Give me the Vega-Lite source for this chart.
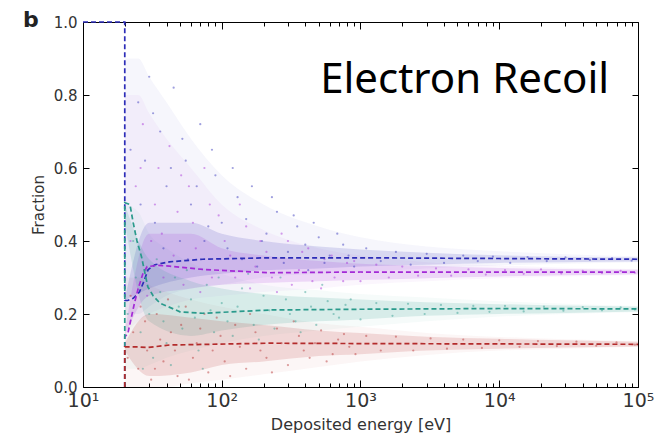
{
  "$schema": "https://vega.github.io/schema/vega-lite/v6.json",
  "width": 555,
  "height": 365,
  "autosize": {"type": "none"},
  "padding": {"left": 83, "top": 22, "right": 28, "bottom": 50},
  "title": {"text": "b", "anchor": "start", "frame": "group", "fontSize": 22, "fontWeight": "bold", "font": "DejaVu Sans", "dx": -60, "offset": 0, "baseline": "alphabetic", "dy": 34, "color": "#222"},
  "config": {
    "view": {"stroke": "#000", "strokeWidth": 1},
    "axis": {"domain": false, "grid": false, "tickColor": "#000", "labelFont": "DejaVu Sans", "titleFont": "DejaVu Sans", "labelColor": "#333", "titleColor": "#333", "titleFontWeight": "normal", "labelFlush": false, "labelOverlap": false, "labelBound": false}
  },
  "resolve": {"axis": {"x": "independent", "y": "independent"}},
  "datasets": {
    "wide": [
      {"e": 20, "l": 0.2, "h": 0.9, "s": "A"}, {"e": 25, "l": 0.2, "h": 0.9, "s": "A"}, {"e": 30, "l": 0.22, "h": 0.85, "s": "A"}, {"e": 40, "l": 0.25, "h": 0.78, "s": "A"}, {"e": 60, "l": 0.27, "h": 0.68, "s": "A"}, {"e": 100, "l": 0.28, "h": 0.58, "s": "A"}, {"e": 200, "l": 0.3, "h": 0.5, "s": "A"}, {"e": 500, "l": 0.31, "h": 0.44, "s": "A"}, {"e": 1000, "l": 0.315, "h": 0.41, "s": "A"}, {"e": 3000, "l": 0.325, "h": 0.385, "s": "A"}, {"e": 10000, "l": 0.333, "h": 0.372, "s": "A"}, {"e": 30000, "l": 0.338, "h": 0.364, "s": "A"}, {"e": 100000, "l": 0.342, "h": 0.358, "s": "A"},
      {"e": 20, "l": 0.15, "h": 0.8, "s": "B"}, {"e": 25, "l": 0.18, "h": 0.8, "s": "B"}, {"e": 30, "l": 0.2, "h": 0.75, "s": "B"}, {"e": 40, "l": 0.22, "h": 0.68, "s": "B"}, {"e": 60, "l": 0.24, "h": 0.6, "s": "B"}, {"e": 100, "l": 0.25, "h": 0.5, "s": "B"}, {"e": 200, "l": 0.26, "h": 0.43, "s": "B"}, {"e": 500, "l": 0.27, "h": 0.38, "s": "B"}, {"e": 1000, "l": 0.28, "h": 0.36, "s": "B"}, {"e": 3000, "l": 0.29, "h": 0.342, "s": "B"}, {"e": 10000, "l": 0.298, "h": 0.333, "s": "B"}, {"e": 30000, "l": 0.303, "h": 0.327, "s": "B"}, {"e": 100000, "l": 0.307, "h": 0.323, "s": "B"},
      {"e": 20, "l": 0.05, "h": 0.5, "s": "C"}, {"e": 25, "l": 0.05, "h": 0.48, "s": "C"}, {"e": 30, "l": 0.06, "h": 0.42, "s": "C"}, {"e": 40, "l": 0.08, "h": 0.38, "s": "C"}, {"e": 60, "l": 0.1, "h": 0.34, "s": "C"}, {"e": 100, "l": 0.12, "h": 0.31, "s": "C"}, {"e": 200, "l": 0.14, "h": 0.28, "s": "C"}, {"e": 500, "l": 0.155, "h": 0.265, "s": "C"}, {"e": 1000, "l": 0.165, "h": 0.255, "s": "C"}, {"e": 3000, "l": 0.18, "h": 0.245, "s": "C"}, {"e": 10000, "l": 0.193, "h": 0.235, "s": "C"}, {"e": 30000, "l": 0.2, "h": 0.228, "s": "C"}, {"e": 100000, "l": 0.205, "h": 0.222, "s": "C"},
      {"e": 20, "l": 0.0, "h": 0.3, "s": "D"}, {"e": 25, "l": 0.0, "h": 0.3, "s": "D"}, {"e": 30, "l": 0.0, "h": 0.28, "s": "D"}, {"e": 40, "l": 0.0, "h": 0.26, "s": "D"}, {"e": 60, "l": 0.01, "h": 0.24, "s": "D"}, {"e": 100, "l": 0.02, "h": 0.22, "s": "D"}, {"e": 200, "l": 0.035, "h": 0.2, "s": "D"}, {"e": 500, "l": 0.055, "h": 0.175, "s": "D"}, {"e": 1000, "l": 0.07, "h": 0.165, "s": "D"}, {"e": 3000, "l": 0.088, "h": 0.148, "s": "D"}, {"e": 10000, "l": 0.1, "h": 0.137, "s": "D"}, {"e": 30000, "l": 0.105, "h": 0.131, "s": "D"}, {"e": 100000, "l": 0.11, "h": 0.125, "s": "D"}
    ],
    "core": [
      {"e": 20, "l": 0.237, "h": 0.24, "s": "A"}, {"e": 30, "l": 0.27, "h": 0.45, "s": "A"}, {"e": 60, "l": 0.3, "h": 0.45, "s": "A"}, {"e": 100, "l": 0.31, "h": 0.42, "s": "A"}, {"e": 200, "l": 0.32, "h": 0.4, "s": "A"}, {"e": 500, "l": 0.325, "h": 0.385, "s": "A"}, {"e": 1000, "l": 0.33, "h": 0.377, "s": "A"}, {"e": 3000, "l": 0.335, "h": 0.368, "s": "A"}, {"e": 10000, "l": 0.34, "h": 0.361, "s": "A"}, {"e": 30000, "l": 0.342, "h": 0.357, "s": "A"}, {"e": 100000, "l": 0.344, "h": 0.355, "s": "A"},
      {"e": 20, "l": 0.14, "h": 0.15, "s": "B"}, {"e": 30, "l": 0.25, "h": 0.42, "s": "B"}, {"e": 60, "l": 0.27, "h": 0.42, "s": "B"}, {"e": 100, "l": 0.28, "h": 0.38, "s": "B"}, {"e": 200, "l": 0.285, "h": 0.36, "s": "B"}, {"e": 500, "l": 0.29, "h": 0.345, "s": "B"}, {"e": 1000, "l": 0.293, "h": 0.338, "s": "B"}, {"e": 3000, "l": 0.298, "h": 0.332, "s": "B"}, {"e": 10000, "l": 0.303, "h": 0.326, "s": "B"}, {"e": 30000, "l": 0.306, "h": 0.323, "s": "B"}, {"e": 100000, "l": 0.309, "h": 0.321, "s": "B"},
      {"e": 20, "l": 0.45, "h": 0.5, "s": "C"}, {"e": 30, "l": 0.18, "h": 0.35, "s": "C"}, {"e": 60, "l": 0.14, "h": 0.29, "s": "C"}, {"e": 100, "l": 0.155, "h": 0.27, "s": "C"}, {"e": 200, "l": 0.17, "h": 0.255, "s": "C"}, {"e": 500, "l": 0.18, "h": 0.245, "s": "C"}, {"e": 1000, "l": 0.185, "h": 0.24, "s": "C"}, {"e": 3000, "l": 0.195, "h": 0.232, "s": "C"}, {"e": 10000, "l": 0.2, "h": 0.227, "s": "C"}, {"e": 30000, "l": 0.203, "h": 0.223, "s": "C"}, {"e": 100000, "l": 0.207, "h": 0.22, "s": "C"},
      {"e": 20, "l": 0.1, "h": 0.12, "s": "D"}, {"e": 30, "l": 0.03, "h": 0.2, "s": "D"}, {"e": 60, "l": 0.04, "h": 0.19, "s": "D"}, {"e": 100, "l": 0.06, "h": 0.18, "s": "D"}, {"e": 200, "l": 0.07, "h": 0.17, "s": "D"}, {"e": 500, "l": 0.085, "h": 0.155, "s": "D"}, {"e": 1000, "l": 0.09, "h": 0.148, "s": "D"}, {"e": 3000, "l": 0.1, "h": 0.138, "s": "D"}, {"e": 10000, "l": 0.105, "h": 0.132, "s": "D"}, {"e": 30000, "l": 0.108, "h": 0.128, "s": "D"}, {"e": 100000, "l": 0.111, "h": 0.124, "s": "D"}
    ],
    "pts": [
      {"e": 25, "f": 0.78, "s": "A"}, {"e": 28, "f": 0.62, "s": "A"}, {"e": 30, "f": 0.85, "s": "A"}, {"e": 33, "f": 0.45, "s": "A"}, {"e": 36, "f": 0.7, "s": "A"}, {"e": 40, "f": 0.55, "s": "A"}, {"e": 45, "f": 0.82, "s": "A"}, {"e": 50, "f": 0.4, "s": "A"}, {"e": 55, "f": 0.62, "s": "A"}, {"e": 60, "f": 0.5, "s": "A"}, {"e": 70, "f": 0.72, "s": "A"}, {"e": 80, "f": 0.44, "s": "A"}, {"e": 90, "f": 0.58, "s": "A"}, {"e": 110, "f": 0.38, "s": "A"}, {"e": 130, "f": 0.52, "s": "A"}, {"e": 150, "f": 0.46, "s": "A"}, {"e": 180, "f": 0.33, "s": "A"}, {"e": 210, "f": 0.42, "s": "A"}, {"e": 250, "f": 0.48, "s": "A"}, {"e": 300, "f": 0.37, "s": "A"}, {"e": 350, "f": 0.44, "s": "A"}, {"e": 420, "f": 0.32, "s": "A"}, {"e": 500, "f": 0.41, "s": "A"}, {"e": 600, "f": 0.36, "s": "A"}, {"e": 750, "f": 0.39, "s": "A"}, {"e": 900, "f": 0.33, "s": "A"}, {"e": 1100, "f": 0.38, "s": "A"}, {"e": 1400, "f": 0.345, "s": "A"}, {"e": 1800, "f": 0.37, "s": "A"}, {"e": 2300, "f": 0.335, "s": "A"}, {"e": 3000, "f": 0.365, "s": "A"}, {"e": 4000, "f": 0.34, "s": "A"}, {"e": 5500, "f": 0.36, "s": "A"}, {"e": 7000, "f": 0.345, "s": "A"}, {"e": 9000, "f": 0.357, "s": "A"}, {"e": 12000, "f": 0.34, "s": "A"}, {"e": 16000, "f": 0.356, "s": "A"}, {"e": 22000, "f": 0.345, "s": "A"}, {"e": 30000, "f": 0.355, "s": "A"}, {"e": 45000, "f": 0.348, "s": "A"}, {"e": 65000, "f": 0.353, "s": "A"}, {"e": 90000, "f": 0.346, "s": "A"},
      {"e": 22, "f": 0.65, "s": "A"}, {"e": 26, "f": 0.5, "s": "A"}, {"e": 32, "f": 0.75, "s": "A"}, {"e": 38, "f": 0.38, "s": "A"}, {"e": 43, "f": 0.6, "s": "A"}, {"e": 52, "f": 0.68, "s": "A"}, {"e": 57, "f": 0.35, "s": "A"}, {"e": 66, "f": 0.55, "s": "A"}, {"e": 75, "f": 0.4, "s": "A"}, {"e": 85, "f": 0.65, "s": "A"}, {"e": 100, "f": 0.45, "s": "A"}, {"e": 120, "f": 0.6, "s": "A"}, {"e": 140, "f": 0.35, "s": "A"}, {"e": 165, "f": 0.55, "s": "A"}, {"e": 195, "f": 0.4, "s": "A"}, {"e": 230, "f": 0.52, "s": "A"}, {"e": 280, "f": 0.34, "s": "A"}, {"e": 330, "f": 0.47, "s": "A"}, {"e": 400, "f": 0.39, "s": "A"}, {"e": 460, "f": 0.45, "s": "A"}, {"e": 550, "f": 0.34, "s": "A"}, {"e": 680, "f": 0.42, "s": "A"}, {"e": 820, "f": 0.36, "s": "A"},
      {"e": 24, "f": 0.55, "s": "B"}, {"e": 27, "f": 0.72, "s": "B"}, {"e": 31, "f": 0.4, "s": "B"}, {"e": 35, "f": 0.6, "s": "B"}, {"e": 38, "f": 0.3, "s": "B"}, {"e": 42, "f": 0.66, "s": "B"}, {"e": 48, "f": 0.48, "s": "B"}, {"e": 53, "f": 0.28, "s": "B"}, {"e": 58, "f": 0.55, "s": "B"}, {"e": 65, "f": 0.38, "s": "B"}, {"e": 75, "f": 0.6, "s": "B"}, {"e": 85, "f": 0.3, "s": "B"}, {"e": 95, "f": 0.47, "s": "B"}, {"e": 115, "f": 0.36, "s": "B"}, {"e": 135, "f": 0.5, "s": "B"}, {"e": 160, "f": 0.27, "s": "B"}, {"e": 190, "f": 0.4, "s": "B"}, {"e": 230, "f": 0.3, "s": "B"}, {"e": 270, "f": 0.42, "s": "B"}, {"e": 320, "f": 0.28, "s": "B"}, {"e": 380, "f": 0.37, "s": "B"}, {"e": 450, "f": 0.29, "s": "B"}, {"e": 550, "f": 0.35, "s": "B"}, {"e": 650, "f": 0.3, "s": "B"}, {"e": 800, "f": 0.34, "s": "B"}, {"e": 1000, "f": 0.29, "s": "B"}, {"e": 1300, "f": 0.335, "s": "B"}, {"e": 1600, "f": 0.3, "s": "B"}, {"e": 2000, "f": 0.33, "s": "B"}, {"e": 2600, "f": 0.305, "s": "B"}, {"e": 3500, "f": 0.325, "s": "B"}, {"e": 4500, "f": 0.305, "s": "B"}, {"e": 6000, "f": 0.322, "s": "B"}, {"e": 8000, "f": 0.308, "s": "B"}, {"e": 11000, "f": 0.32, "s": "B"}, {"e": 15000, "f": 0.31, "s": "B"}, {"e": 20000, "f": 0.322, "s": "B"}, {"e": 28000, "f": 0.311, "s": "B"}, {"e": 40000, "f": 0.318, "s": "B"}, {"e": 55000, "f": 0.312, "s": "B"}, {"e": 75000, "f": 0.318, "s": "B"}, {"e": 95000, "f": 0.313, "s": "B"},
      {"e": 22, "f": 0.4, "s": "B"}, {"e": 26, "f": 0.6, "s": "B"}, {"e": 29, "f": 0.25, "s": "B"}, {"e": 33, "f": 0.5, "s": "B"}, {"e": 37, "f": 0.42, "s": "B"}, {"e": 45, "f": 0.36, "s": "B"}, {"e": 51, "f": 0.58, "s": "B"}, {"e": 62, "f": 0.45, "s": "B"}, {"e": 70, "f": 0.26, "s": "B"}, {"e": 82, "f": 0.5, "s": "B"}, {"e": 105, "f": 0.4, "s": "B"}, {"e": 125, "f": 0.3, "s": "B"}, {"e": 150, "f": 0.44, "s": "B"}, {"e": 175, "f": 0.33, "s": "B"}, {"e": 210, "f": 0.37, "s": "B"}, {"e": 250, "f": 0.26, "s": "B"}, {"e": 300, "f": 0.4, "s": "B"}, {"e": 360, "f": 0.32, "s": "B"}, {"e": 420, "f": 0.38, "s": "B"}, {"e": 520, "f": 0.27, "s": "B"}, {"e": 620, "f": 0.36, "s": "B"}, {"e": 750, "f": 0.29, "s": "B"}, {"e": 900, "f": 0.345, "s": "B"},
      {"e": 23, "f": 0.4, "s": "C"}, {"e": 26, "f": 0.15, "s": "C"}, {"e": 29, "f": 0.32, "s": "C"}, {"e": 32, "f": 0.08, "s": "C"}, {"e": 36, "f": 0.26, "s": "C"}, {"e": 40, "f": 0.12, "s": "C"}, {"e": 46, "f": 0.3, "s": "C"}, {"e": 52, "f": 0.16, "s": "C"}, {"e": 60, "f": 0.24, "s": "C"}, {"e": 68, "f": 0.1, "s": "C"}, {"e": 78, "f": 0.28, "s": "C"}, {"e": 88, "f": 0.15, "s": "C"}, {"e": 100, "f": 0.23, "s": "C"}, {"e": 120, "f": 0.14, "s": "C"}, {"e": 140, "f": 0.27, "s": "C"}, {"e": 170, "f": 0.17, "s": "C"}, {"e": 200, "f": 0.25, "s": "C"}, {"e": 240, "f": 0.16, "s": "C"}, {"e": 290, "f": 0.24, "s": "C"}, {"e": 340, "f": 0.18, "s": "C"}, {"e": 400, "f": 0.26, "s": "C"}, {"e": 480, "f": 0.17, "s": "C"}, {"e": 580, "f": 0.235, "s": "C"}, {"e": 700, "f": 0.19, "s": "C"}, {"e": 850, "f": 0.24, "s": "C"}, {"e": 1000, "f": 0.185, "s": "C"}, {"e": 1300, "f": 0.23, "s": "C"}, {"e": 1700, "f": 0.195, "s": "C"}, {"e": 2200, "f": 0.228, "s": "C"}, {"e": 2900, "f": 0.2, "s": "C"}, {"e": 3800, "f": 0.225, "s": "C"}, {"e": 5000, "f": 0.203, "s": "C"}, {"e": 6500, "f": 0.222, "s": "C"}, {"e": 8500, "f": 0.206, "s": "C"}, {"e": 11000, "f": 0.222, "s": "C"}, {"e": 15000, "f": 0.207, "s": "C"}, {"e": 21000, "f": 0.22, "s": "C"}, {"e": 29000, "f": 0.209, "s": "C"}, {"e": 40000, "f": 0.219, "s": "C"}, {"e": 55000, "f": 0.21, "s": "C"}, {"e": 75000, "f": 0.218, "s": "C"}, {"e": 95000, "f": 0.212, "s": "C"},
      {"e": 21, "f": 0.2, "s": "C"}, {"e": 24, "f": 0.3, "s": "C"}, {"e": 27, "f": 0.05, "s": "C"}, {"e": 30, "f": 0.2, "s": "C"}, {"e": 34, "f": 0.35, "s": "C"}, {"e": 38, "f": 0.18, "s": "C"}, {"e": 43, "f": 0.06, "s": "C"}, {"e": 49, "f": 0.22, "s": "C"}, {"e": 56, "f": 0.32, "s": "C"}, {"e": 64, "f": 0.19, "s": "C"}, {"e": 73, "f": 0.05, "s": "C"}, {"e": 83, "f": 0.21, "s": "C"}, {"e": 95, "f": 0.3, "s": "C"}, {"e": 110, "f": 0.18, "s": "C"}, {"e": 130, "f": 0.22, "s": "C"}, {"e": 155, "f": 0.31, "s": "C"}, {"e": 185, "f": 0.13, "s": "C"}, {"e": 220, "f": 0.21, "s": "C"}, {"e": 265, "f": 0.3, "s": "C"}, {"e": 310, "f": 0.2, "s": "C"}, {"e": 370, "f": 0.15, "s": "C"}, {"e": 440, "f": 0.22, "s": "C"}, {"e": 530, "f": 0.28, "s": "C"}, {"e": 640, "f": 0.2, "s": "C"}, {"e": 780, "f": 0.225, "s": "C"},
      {"e": 22, "f": 0.25, "s": "D"}, {"e": 25, "f": 0.05, "s": "D"}, {"e": 28, "f": 0.18, "s": "D"}, {"e": 31, "f": 0.02, "s": "D"}, {"e": 34, "f": 0.2, "s": "D"}, {"e": 38, "f": 0.07, "s": "D"}, {"e": 43, "f": 0.15, "s": "D"}, {"e": 48, "f": 0.03, "s": "D"}, {"e": 55, "f": 0.22, "s": "D"}, {"e": 62, "f": 0.08, "s": "D"}, {"e": 70, "f": 0.16, "s": "D"}, {"e": 80, "f": 0.04, "s": "D"}, {"e": 92, "f": 0.19, "s": "D"}, {"e": 105, "f": 0.07, "s": "D"}, {"e": 125, "f": 0.17, "s": "D"}, {"e": 150, "f": 0.05, "s": "D"}, {"e": 175, "f": 0.15, "s": "D"}, {"e": 210, "f": 0.08, "s": "D"}, {"e": 250, "f": 0.16, "s": "D"}, {"e": 300, "f": 0.06, "s": "D"}, {"e": 360, "f": 0.14, "s": "D"}, {"e": 430, "f": 0.08, "s": "D"}, {"e": 520, "f": 0.155, "s": "D"}, {"e": 630, "f": 0.09, "s": "D"}, {"e": 760, "f": 0.145, "s": "D"}, {"e": 920, "f": 0.09, "s": "D"}, {"e": 1100, "f": 0.14, "s": "D"}, {"e": 1400, "f": 0.1, "s": "D"}, {"e": 1800, "f": 0.138, "s": "D"}, {"e": 2400, "f": 0.1, "s": "D"}, {"e": 3200, "f": 0.133, "s": "D"}, {"e": 4200, "f": 0.105, "s": "D"}, {"e": 5500, "f": 0.13, "s": "D"}, {"e": 7500, "f": 0.107, "s": "D"}, {"e": 10000, "f": 0.128, "s": "D"}, {"e": 14000, "f": 0.11, "s": "D"}, {"e": 19000, "f": 0.126, "s": "D"}, {"e": 26000, "f": 0.112, "s": "D"}, {"e": 36000, "f": 0.124, "s": "D"}, {"e": 50000, "f": 0.113, "s": "D"}, {"e": 70000, "f": 0.122, "s": "D"}, {"e": 95000, "f": 0.116, "s": "D"},
      {"e": 21, "f": 0.08, "s": "D"}, {"e": 23, "f": 0.15, "s": "D"}, {"e": 26, "f": 0.22, "s": "D"}, {"e": 29, "f": 0.1, "s": "D"}, {"e": 33, "f": 0.05, "s": "D"}, {"e": 36, "f": 0.13, "s": "D"}, {"e": 41, "f": 0.24, "s": "D"}, {"e": 46, "f": 0.1, "s": "D"}, {"e": 51, "f": 0.17, "s": "D"}, {"e": 58, "f": 0.02, "s": "D"}, {"e": 66, "f": 0.12, "s": "D"}, {"e": 75, "f": 0.2, "s": "D"}, {"e": 86, "f": 0.1, "s": "D"}, {"e": 98, "f": 0.14, "s": "D"}, {"e": 115, "f": 0.03, "s": "D"}, {"e": 135, "f": 0.11, "s": "D"}, {"e": 160, "f": 0.2, "s": "D"}, {"e": 190, "f": 0.1, "s": "D"}, {"e": 230, "f": 0.04, "s": "D"}, {"e": 270, "f": 0.12, "s": "D"}, {"e": 330, "f": 0.18, "s": "D"}, {"e": 390, "f": 0.1, "s": "D"}, {"e": 470, "f": 0.12, "s": "D"}, {"e": 570, "f": 0.07, "s": "D"}, {"e": 690, "f": 0.13, "s": "D"}, {"e": 830, "f": 0.11, "s": "D"}
    ],
    "lines": [
      {"i": 0, "e": 10, "f": 1.0, "s": "A"}, {"i": 1, "e": 20, "f": 1.0, "s": "A"}, {"i": 2, "e": 20, "f": 0.237, "s": "A"}, {"i": 3, "e": 21, "f": 0.237, "s": "A"}, {"i": 4, "e": 23, "f": 0.243, "s": "A"}, {"i": 5, "e": 25.5, "f": 0.26, "s": "A"}, {"i": 6, "e": 27.5, "f": 0.29, "s": "A"}, {"i": 7, "e": 29.5, "f": 0.322, "s": "A"}, {"i": 8, "e": 33, "f": 0.335, "s": "A"}, {"i": 9, "e": 42, "f": 0.343, "s": "A"}, {"i": 10, "e": 73, "f": 0.35, "s": "A"}, {"i": 11, "e": 220, "f": 0.354, "s": "A"}, {"i": 12, "e": 1000, "f": 0.354, "s": "A"}, {"i": 13, "e": 10000, "f": 0.352, "s": "A"}, {"i": 14, "e": 100000, "f": 0.35, "s": "A"},
      {"i": 0, "e": 20, "f": 0.0, "s": "B"}, {"i": 1, "e": 20, "f": 0.138, "s": "B"}, {"i": 2, "e": 21, "f": 0.145, "s": "B"}, {"i": 3, "e": 22, "f": 0.18, "s": "B"}, {"i": 4, "e": 23.5, "f": 0.23, "s": "B"}, {"i": 5, "e": 25, "f": 0.27, "s": "B"}, {"i": 6, "e": 27, "f": 0.31, "s": "B"}, {"i": 7, "e": 29, "f": 0.33, "s": "B"}, {"i": 8, "e": 35, "f": 0.333, "s": "B"}, {"i": 9, "e": 42, "f": 0.331, "s": "B"}, {"i": 10, "e": 73, "f": 0.322, "s": "B"}, {"i": 11, "e": 220, "f": 0.313, "s": "B"}, {"i": 12, "e": 1000, "f": 0.315, "s": "B"}, {"i": 13, "e": 10000, "f": 0.315, "s": "B"}, {"i": 14, "e": 100000, "f": 0.315, "s": "B"},
      {"i": 0, "e": 20, "f": 0.0, "s": "C"}, {"i": 1, "e": 20, "f": 0.505, "s": "C"}, {"i": 2, "e": 21.8, "f": 0.5, "s": "C"}, {"i": 3, "e": 23, "f": 0.45, "s": "C"}, {"i": 4, "e": 24.5, "f": 0.4, "s": "C"}, {"i": 5, "e": 26.4, "f": 0.357, "s": "C"}, {"i": 6, "e": 29.3, "f": 0.275, "s": "C"}, {"i": 7, "e": 32, "f": 0.25, "s": "C"}, {"i": 8, "e": 35.8, "f": 0.23, "s": "C"}, {"i": 9, "e": 50, "f": 0.206, "s": "C"}, {"i": 10, "e": 73, "f": 0.202, "s": "C"}, {"i": 11, "e": 221, "f": 0.211, "s": "C"}, {"i": 12, "e": 1000, "f": 0.213, "s": "C"}, {"i": 13, "e": 10000, "f": 0.215, "s": "C"}, {"i": 14, "e": 100000, "f": 0.214, "s": "C"},
      {"i": 0, "e": 20, "f": 0.0, "s": "D"}, {"i": 1, "e": 20, "f": 0.11, "s": "D"}, {"i": 2, "e": 25, "f": 0.11, "s": "D"}, {"i": 3, "e": 29, "f": 0.108, "s": "D"}, {"i": 4, "e": 42, "f": 0.115, "s": "D"}, {"i": 5, "e": 221, "f": 0.12, "s": "D"}, {"i": 6, "e": 1000, "f": 0.119, "s": "D"}, {"i": 7, "e": 10000, "f": 0.118, "s": "D"}, {"i": 8, "e": 100000, "f": 0.117, "s": "D"}
    ],
    "label": [{"e": 62000, "f": 0.84, "t": "Electron Recoil"}]
  },
  "layer": [
    {
      "data": {"name": "wide"},
      "mark": {"type": "area", "opacity": 0.045, "interpolate": "monotone"},
      "encoding": {
        "x": {"field": "e", "type": "quantitative", "scale": {"type": "log", "domain": [10, 100000], "nice": false},
          "axis": {"orient": "bottom", "values": [10, 100, 1000, 10000, 100000], "labelExpr": "'10' + ['⁰','¹','²','³','⁴','⁵'][round(log(datum.value)/LN10)]", "labelFontSize": 19, "tickSize": -7, "labelPadding": 11, "title": "Deposited energy [eV]", "titleFontSize": 16, "titlePadding": 6}},
        "y": {"field": "l", "type": "quantitative", "scale": {"domain": [0, 1], "nice": false},
          "axis": {"orient": "left", "values": [0, 0.2, 0.4, 0.6, 0.8, 1.0], "format": ".1f", "labelFontSize": 15, "tickSize": -6, "labelPadding": 12, "title": "Fraction", "titleFontSize": 15, "titlePadding": 7}},
        "y2": {"field": "h"},
        "color": {"field": "s", "type": "nominal", "scale": {"domain": ["A", "B", "C", "D"], "range": ["#2d2db8", "#a32ad6", "#2a9a8c", "#b32b2b"]}, "legend": null}
      }
    },
    {
      "data": {"name": "core"},
      "mark": {"type": "area", "opacity": 0.15, "interpolate": "monotone"},
      "encoding": {
        "x": {"field": "e", "type": "quantitative", "scale": {"type": "log", "domain": [10, 100000], "nice": false},
          "axis": {"orient": "top", "values": [10, 100, 1000, 10000, 100000], "labels": false, "tickSize": -7, "title": null}},
        "y": {"field": "l", "type": "quantitative", "scale": {"domain": [0, 1], "nice": false},
          "axis": {"orient": "right", "values": [0, 0.2, 0.4, 0.6, 0.8, 1.0], "labels": false, "tickSize": -6, "title": null}},
        "y2": {"field": "h"},
        "color": {"field": "s", "type": "nominal", "legend": null}
      }
    },
    {
      "data": {"name": "pts"},
      "mark": {"type": "circle", "size": 5, "opacity": 0.45},
      "encoding": {
        "x": {"field": "e", "type": "quantitative", "scale": {"type": "log", "domain": [10, 100000], "nice": false},
          "axis": {"orient": "bottom", "values": [20, 30, 40, 50, 60, 70, 80, 90, 200, 300, 400, 500, 600, 700, 800, 900, 2000, 3000, 4000, 5000, 6000, 7000, 8000, 9000, 20000, 30000, 40000, 50000, 60000, 70000, 80000, 90000], "labels": false, "tickSize": -4, "title": null}},
        "y": {"field": "f", "type": "quantitative", "axis": null},
        "color": {"field": "s", "type": "nominal", "legend": null}
      }
    },
    {
      "data": {"name": "lines"},
      "mark": {"type": "line", "strokeDash": [5, 3], "strokeWidth": 1.7},
      "encoding": {
        "x": {"field": "e", "type": "quantitative", "scale": {"type": "log", "domain": [10, 100000], "nice": false},
          "axis": {"orient": "top", "values": [20, 30, 40, 50, 60, 70, 80, 90, 200, 300, 400, 500, 600, 700, 800, 900, 2000, 3000, 4000, 5000, 6000, 7000, 8000, 9000, 20000, 30000, 40000, 50000, 60000, 70000, 80000, 90000], "labels": false, "tickSize": -4, "title": null}},
        "y": {"field": "f", "type": "quantitative", "axis": null},
        "order": {"field": "i", "type": "quantitative"},
        "color": {"field": "s", "type": "nominal", "legend": null}
      }
    },
    {
      "data": {"name": "label"},
      "mark": {"type": "text", "align": "right", "baseline": "middle", "fontSize": 42, "font": "Noto Sans", "color": "#000"},
      "encoding": {
        "x": {"field": "e", "type": "quantitative", "axis": null},
        "y": {"field": "f", "type": "quantitative", "axis": null},
        "text": {"field": "t"}
      }
    }
  ]
}
